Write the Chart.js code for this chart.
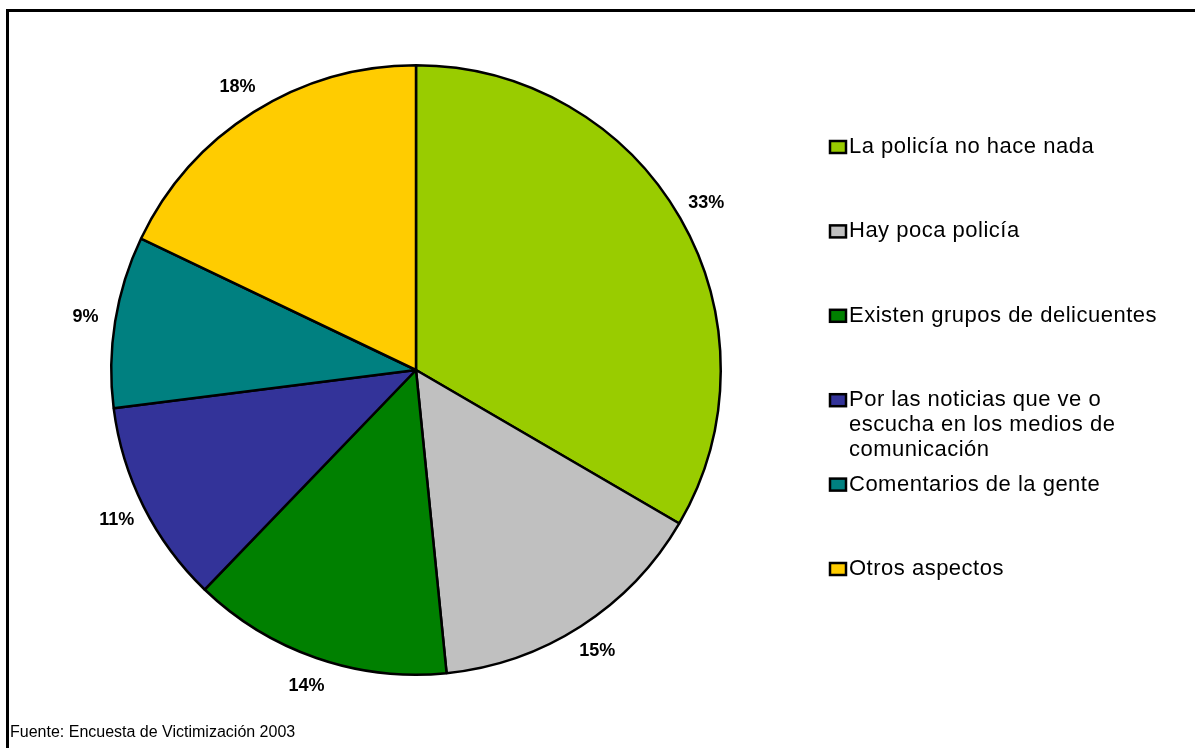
<!DOCTYPE html>
<html>
<head>
<meta charset="utf-8">
<script src="https://cdn.jsdelivr.net/npm/chart.js@4/dist/chart.umd.min.js"></script>
<style>
  html, body { margin: 0; padding: 0; background: #fff; overflow: hidden; }
  #frame { position: absolute; left: 6px; top: 9px; width: 1400px; height: 900px;
           border-top: 3px solid #000; border-left: 3px solid #000; }
  #c { position: absolute; left: 0; top: 0; }
</style>
</head>
<body>
<div id="frame"></div>
<canvas id="c" width="1195" height="748"></canvas>
<script>
// datos
const categories = [
  'La policía no hace nada',
  'Hay poca policía',
  'Existen grupos de delicuentes',
  'Por las noticias que ve o escucha en los medios de comunicación',
  'Comentarios de la gente',
  'Otros aspectos'
];
const shares = [33.4, 15.0, 13.8, 10.8, 9.1, 17.9];
const colors = ['#99CC00', '#C0C0C0', '#008000', '#333399', '#008080', '#FFCC00'];
const sourceNote = 'Fuente: Encuesta de Victimización 2003';

const FONT = '"Liberation Sans", Arial, sans-serif';

// porcentajes fuera de cada sector
const pctLabels = {
  id: 'pctLabels',
  afterDatasetsDraw(chart) {
    const ctx = chart.ctx;
    const meta = chart.getDatasetMeta(0);
    ctx.save();
    ctx.font = 'bold 18px ' + FONT;
    ctx.fillStyle = '#000';
    ctx.textAlign = 'center';
    ctx.textBaseline = 'middle';
    meta.data.forEach((arc, i) => {
      const p = arc.getProps(['x', 'y', 'startAngle', 'endAngle', 'outerRadius'], true);
      const mid = (p.startAngle + p.endAngle) / 2;
      const r = p.outerRadius + 30;
      const v = chart.data.datasets[0].data[i];
      ctx.fillText(Math.round(v) + '%', p.x + Math.cos(mid) * r, p.y + Math.sin(mid) * r);
    });
    ctx.restore();
  }
};

// leyenda a la derecha, estilo Excel
const sideLegend = {
  id: 'sideLegend',
  afterDraw(chart) {
    const ctx = chart.ctx;
    const labels = chart.data.labels;
    const bg = chart.data.datasets[0].backgroundColor;
    ctx.save();
    ctx.font = '22px ' + FONT;
    ctx.letterSpacing = '0.5px';
    ctx.textBaseline = 'middle';
    const maxW = 320;
    labels.forEach((txt, i) => {
      const y0 = 147 + i * 84.4;
      // marcador
      ctx.fillStyle = bg[i];
      ctx.fillRect(830, y0 - 6, 16, 12);
      ctx.strokeStyle = '#000';
      ctx.lineWidth = 2.5;
      ctx.strokeRect(830, y0 - 6, 16, 12);
      // texto con salto de linea
      ctx.fillStyle = '#000';
      const words = txt.split(' ');
      let line = '', lines = [];
      words.forEach(w => {
        const test = line ? line + ' ' + w : w;
        if (ctx.measureText(test).width > maxW && line) { lines.push(line); line = w; }
        else line = test;
      });
      lines.push(line);
      lines.forEach((l, k) => ctx.fillText(l, 849, y0 + k * 25));
    });
    ctx.letterSpacing = '0px';
    ctx.font = '16px ' + FONT;
    ctx.fillText(sourceNote, 10, 733);
    ctx.restore();
  }
};

new Chart(document.getElementById('c'), {
  type: 'pie',
  data: {
    labels: categories,
    datasets: [{
      data: shares,
      backgroundColor: colors,
      borderColor: '#000',
      borderWidth: 2.5,
      hoverOffset: 0
    }]
  },
  options: {
    responsive: false,
    animation: false,
    layout: { padding: { left: 110, top: 64, right: 473, bottom: 72 } },
    plugins: {
      legend: { display: false },
      tooltip: { enabled: false }
    }
  },
  plugins: [pctLabels, sideLegend]
});
</script>
</body>
</html>
